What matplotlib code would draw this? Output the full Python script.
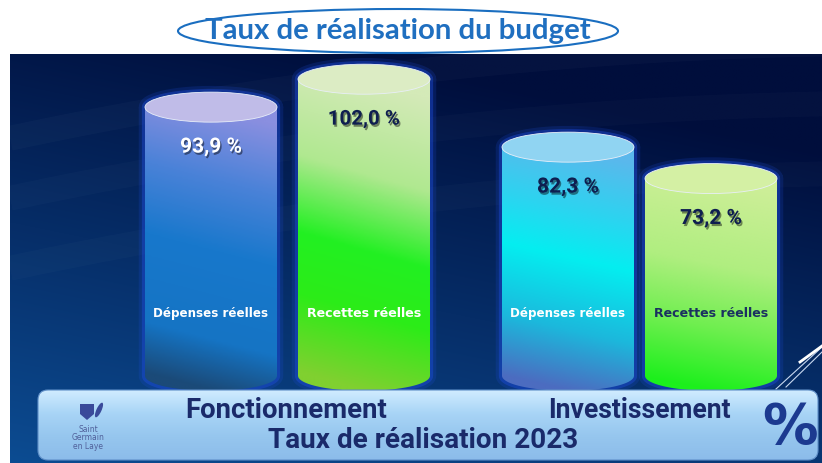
import numpy as np
import matplotlib
matplotlib.use('Agg')
import matplotlib.pyplot as plt
import matplotlib.patheffects as pe
from matplotlib.colors import LinearSegmentedColormap, to_rgb
from matplotlib.patches import Ellipse, FancyBboxPatch, PathPatch, Polygon
from matplotlib.path import Path

# --- data
title = 'Taux de réalisation du budget'
subtitle = 'Taux de réalisation 2023'
groups = ['Fonctionnement', 'Investissement']
categories = ['Dépenses réelles', 'Recettes réelles',
              'Dépenses réelles', 'Recettes réelles']
rates = [93.9, 102.0, 82.3, 73.2]
rate_labels = ['93,9 %', '102,0 %', '82,3 %', '73,2 %']

# --- layout (pixels of an 822x463 canvas)
W, H = 822, 463
bar_x = [211, 364, 568, 711]
bar_w = 132
group_x = [286, 639]
PX_PER_PCT = 3.449      # vertical scale of the cylinders
ZERO_PX = 431           # pixel row of 0 %
BASE = 16               # cylinder bottom, in %
ELL_H = 30 / PX_PER_PCT

# gradients top -> bottom of each cylinder body
body_stops = [
    [(0, '#8a8fe0'), (0.25, '#4a82d8'), (0.5, '#1878cc'), (0.82, '#1574c4'), (1, '#1b4a78')],
    [(0, '#d4eab8'), (0.3, '#b0e890'), (0.55, '#22f022'), (0.75, '#2cec18'), (1, '#80d030')],
    [(0, '#5ab8ec'), (0.25, '#2cd4f0'), (0.45, '#04eef0'), (0.75, '#1cb8dc'), (1, '#4c6cc0')],
    [(0, '#cdee98'), (0.4, '#b0ee80'), (0.7, '#70ee50'), (1, '#1cf01c')],
]
top_colors = ['#c0bce8', '#dcecc4', '#90d4f2', '#d4f0a4']
value_colors = ['white', '#0e1e50', '#0e1e50', '#0e1e50']
cat_colors = ['white', 'white', 'white', '#1a3060']
NAVY = '#1a2a6a'
sans = ['Roboto', 'DejaVu Sans']


def fit_width(txt, width_px, renderer):
    """Scale the font size so that the text spans width_px."""
    bb = txt.get_window_extent(renderer)
    txt.set_fontsize(txt.get_fontsize() * width_px / bb.width)


def cylinder(ax, xc, top, stops, top_color):
    x0, x1 = xc - bar_w / 2, xc + bar_w / 2
    t = np.linspace(np.pi, 2 * np.pi, 40)
    low = np.column_stack([xc + bar_w / 2 * np.cos(t), BASE + ELL_H / 2 * np.sin(t)])
    up = np.column_stack([xc - bar_w / 2 * np.cos(t), top - ELL_H / 2 * np.sin(t)])
    body = np.vstack([[x0, top], low, [x1, top], [x0, top]])
    shape = np.vstack([[x0, top], low, [x1, top], up[::-1], [x0, top]])

    # blue halo
    for lw, a in [(9, 0.18), (4.5, 0.4)]:
        ax.add_patch(PathPatch(Path(shape), fill=False, edgecolor='#1f4ee0',
                               lw=lw, alpha=a, joinstyle='round', zorder=2))
    clip = PathPatch(Path(body), facecolor='none', edgecolor='none')
    ax.add_patch(clip)
    yy, xx = np.mgrid[0:1:200j, 0:1:60j]
    grad = np.clip(yy - 0.12 * (xx - 0.5), 0, 1)
    cmap = LinearSegmentedColormap.from_list('c', stops)
    im = ax.imshow(grad, extent=(x0, x1, BASE - ELL_H / 2, top), aspect='auto',
                   cmap=cmap, vmin=0, vmax=1, origin='upper', zorder=3,
                   interpolation='bilinear')
    im.set_clip_path(clip)
    ax.add_patch(Ellipse((xc, top), bar_w, ELL_H, facecolor=top_color,
                         edgecolor='#e8eef8', lw=0.6, zorder=4))


fig = plt.figure(figsize=(W / 100, H / 100), dpi=100)
fig.patch.set_facecolor('white')
renderer = fig.canvas.get_renderer()

# background layer, pixel coordinates
bg = fig.add_axes([0, 0, 1, 1], zorder=0)
bg.axis('off')
yy, xx = np.mgrid[0:1:200j, 0:1:300j]
tmix = np.clip(0.85 * yy + 0.35 * (1 - xx) - 0.2, 0, 1)[..., None]
dark, light = np.array(to_rgb('#000e3c')), np.array(to_rgb('#0c4c92'))
bg.imshow(dark + (light - dark) * tmix, extent=(10, W, H, 54), aspect='auto',
          interpolation='bilinear')
# faint swooshes
sx = np.linspace(10, W, 200)
for k, a in [(0, 0.025), (60, 0.02), (130, 0.02)]:
    bg.plot(sx, 120 + k - 0.12 * (sx - 10) + 0.00012 * (sx - 400) ** 2,
            color='white', lw=18, alpha=a, solid_capstyle='butt')
bg.set_xlim(0, W)
bg.set_ylim(H, 0)

# cylinders, data coordinates (percent)
ax = fig.add_axes([0, 0, 1, 1], zorder=1)
ax.patch.set_visible(False)
ax.axis('off')
for xc, v, st, tc in zip(bar_x, rates, body_stops, top_colors):
    cylinder(ax, xc, v, st, tc)
for xc, v, lab, col in zip(bar_x, rates, rate_labels, value_colors):
    t = ax.text(xc, v - 11.6, lab, ha='center', va='center', color=col,
                fontsize=12, fontweight='bold', family=sans, zorder=6,
                path_effects=[pe.withSimplePatchShadow(offset=(1, -1.5),
                                                       shadow_rgbFace='black', alpha=0.45)])
    fit_width(t, 62 if len(lab) < 7 else 72, renderer)
for xc, lab, col in zip(bar_x, categories, cat_colors):
    t = ax.text(xc, 34, lab, ha='center', va='center', color=col,
                fontsize=9, fontweight='bold', family='DejaVu Sans', zorder=6)
    fit_width(t, 114, renderer)
ax.set_xlim(0, W)
ax.set_ylim((ZERO_PX - H) / PX_PER_PCT, ZERO_PX / PX_PER_PCT)

# foreground: band, captions, title
fg = fig.add_axes([0, 0, 1, 1], zorder=2)
fg.patch.set_visible(False)
fg.axis('off')
fg.set_xlim(0, W)
fg.set_ylim(H, 0)

# diagonal accent lines at the right
fg.plot([776, 822], [389, 347], color='#c8d8f0', lw=0.8)
fg.plot([786, 822], [387, 352], color='#c8d8f0', lw=0.8)
fg.plot([800, 822], [362, 346], color='white', lw=2)

band = FancyBboxPatch((38, 390), 780, 70, boxstyle='round,pad=0,rounding_size=10',
                      facecolor='none', edgecolor='#5f8fc8', lw=0.8, zorder=3)
fg.add_patch(band)
byy = np.linspace(0, 1, 100)[:, None] * np.ones((1, 10))
bcmap = LinearSegmentedColormap.from_list('b', ['#d0ecff', '#a8d4f6', '#96c6ee', '#8cbcea'])
bim = fg.imshow(byy, extent=(38, 818, 460, 390), aspect='auto', cmap=bcmap,
                vmin=0, vmax=1, zorder=2, interpolation='bilinear')
bim.set_clip_path(band)

for gx, g in zip(group_x, groups):
    t = fg.text(gx, 411, g, ha='center', va='center', color=NAVY, fontsize=17,
                fontweight='bold', family=sans, zorder=4)
    fit_width(t, 202 if g.startswith('F') else 183, renderer)
t = fg.text(423, 440, subtitle, ha='center', va='center', color=NAVY, fontsize=17,
            fontweight='bold', family=sans, zorder=4)
fit_width(t, 310, renderer)
fg.text(790, 428, '%', ha='center', va='center', color='#1c3a90', fontsize=40,
        fontweight='bold', family='DejaVu Sans', zorder=4)

# town logo
fg.add_patch(Polygon([[80, 404], [94, 404], [94, 414], [87, 420], [80, 414]],
                     closed=True, facecolor='#3a4a9a', edgecolor='none', zorder=4))
fg.add_patch(Ellipse((99, 410), 5, 16, angle=25, facecolor='#3a4a9a',
                     edgecolor='none', zorder=4))
fg.text(88, 438, 'Saint\nGermain\nen Laye', ha='center', va='center',
        color='#50609a', fontsize=5.5, linespacing=0.9, zorder=4)

# title in its ellipse
fg.add_patch(Ellipse((398, 31), 440, 44, facecolor='white', edgecolor='#1a6ec0',
                     lw=1.5, zorder=4, clip_on=False))
t = fg.text(398, 31, title, ha='center', va='center', color='#1f6fc0', fontsize=17,
            fontweight='bold', family=['Lato', 'DejaVu Sans'], zorder=5)
fit_width(t, 388, renderer)

fig.savefig('out.png', dpi=100)
